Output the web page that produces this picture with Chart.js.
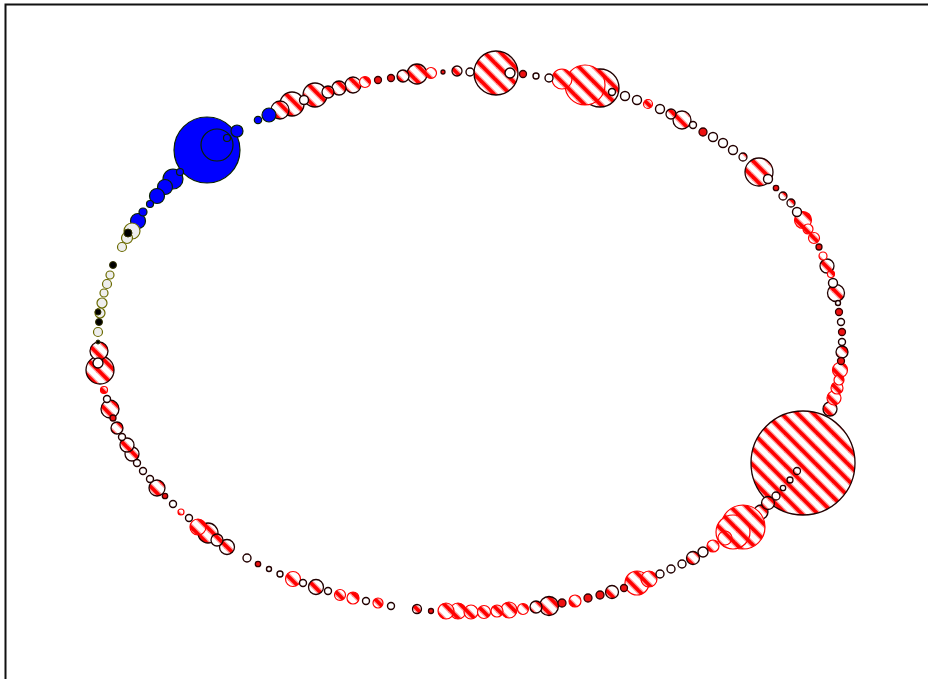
<!DOCTYPE html>
<html>
<head>
<meta charset="utf-8">
<script src="https://cdn.jsdelivr.net/npm/chart.js@4.4.0/dist/chart.umd.min.js"></script>
<style>
  html, body { margin: 0; padding: 0; background: #fff; overflow: hidden; }
  #wrap { position: relative; width: 928px; height: 679px; }
</style>
</head>
<body>
<div id="wrap"><canvas id="grafico"></canvas></div>
<script>
// bolhas [x, y, r] por estilo
const listradasEscuras = [
  [803, 463, 52], [600, 88, 19], [496, 73, 22], [100, 370, 14], [759, 172, 14],
  [292, 104, 12], [315, 95, 12], [417, 74, 10], [208, 533, 10], [549, 606, 9.5],
  [280, 110, 9], [110, 409, 9], [99, 351, 9], [836, 293, 8.5], [157, 488, 8],
  [353, 85, 8], [316, 587, 7.5], [227, 547, 7.5], [339, 88, 7], [682, 120, 9],
  [827, 266, 7], [761, 512, 7], [830, 409, 7], [132, 454, 7], [127, 445, 7],
  [768, 503, 6.5], [693, 558, 6.5], [612, 592, 6.5], [328, 92, 6], [403, 76, 6],
  [842, 352, 6], [536, 607, 6], [217, 540, 6], [117, 428, 6], [457, 71, 5],
  [671, 114, 5], [417, 609, 4.5], [743, 157, 4], [783, 196, 4], [791, 203, 4],
  [776, 496, 4], [797, 471, 3.5], [790, 480, 3], [783, 488, 2.7]
];
const listradasVermelhas = [
  [743, 527, 22], [585, 85, 20], [733, 532, 17], [637, 583, 12], [562, 79, 10],
  [803, 220, 8.5], [649, 579, 8], [509, 610, 8], [458, 611, 8], [446, 611, 8],
  [198, 527, 8], [840, 370, 7.5], [293, 579, 7.5], [834, 398, 7], [725, 538, 7],
  [471, 612, 7], [484, 612, 6.5], [837, 388, 6], [713, 546, 6], [575, 601, 6],
  [497, 611, 6], [353, 598, 6], [365, 82, 5.5], [431, 73, 5.5], [814, 238, 5.5],
  [523, 609, 5.5], [340, 595, 5.5], [808, 229, 5], [839, 380, 5], [378, 603, 5],
  [648, 104, 4.5], [823, 256, 4], [831, 274, 3.5], [104, 390, 3.5], [181, 512, 3]
];
const aneisBrancos = [
  [510, 73, 5], [703, 552, 5], [98, 363, 5], [304, 100, 4.5], [625, 96, 4.5],
  [637, 100, 4.5], [660, 109, 4.5], [713, 137, 4.5], [723, 143, 4.5], [733, 150, 4.5],
  [768, 179, 4.5], [797, 212, 4.5], [833, 283, 4.5], [470, 72, 4], [549, 78, 4],
  [682, 564, 4], [671, 569, 4], [660, 574, 4], [247, 558, 4], [612, 92, 3.5],
  [693, 125, 3.5], [841, 322, 3.5], [842, 342, 3.5], [391, 606, 3.5], [366, 601, 3.5],
  [328, 591, 3.5], [303, 583, 3.5], [189, 518, 3.5], [173, 504, 3.5], [150, 479, 3.5],
  [143, 471, 3.5], [137, 463, 3.5], [122, 437, 3.5], [107, 399, 3.5], [536, 76, 3],
  [280, 574, 3], [838, 303, 2.5], [269, 569, 2.5]
];
const pontosVermelhos = [
  [703, 132, 4], [600, 595, 4], [588, 598, 4], [562, 603, 4], [378, 80, 3.5],
  [391, 78, 3.5], [523, 74, 3.5], [839, 312, 3.5], [842, 332, 3.5], [841, 361, 3.5],
  [624, 588, 3.5], [819, 247, 3], [113, 418, 3], [776, 188, 2.7], [258, 564, 2.7],
  [165, 496, 2.7], [431, 611, 2.5], [443, 72, 2]
];
const pontosAzuis = [
  [207, 150, 33], [217, 145, 16], [173, 179, 10], [165, 187, 7.5], [157, 196, 7.5],
  [138, 221, 7.5], [269, 115, 7], [237, 131, 6], [143, 212, 4], [258, 120, 3.7],
  [227, 138, 3.5], [180, 172, 3.5], [150, 204, 3.5]
];
const pontosCinza = [
  [132, 231, 8], [127, 238, 5.5], [102, 303, 5], [100, 313, 5], [122, 247, 4.5],
  [107, 284, 4.5], [98, 332, 4.5], [110, 275, 4], [104, 293, 4]
];
const pontosPretos = [
  [128, 233, 4], [113, 265, 3.5], [99, 322, 3.5], [98, 312, 3], [98, 342, 2]
];

const paraBolhas = lista => lista.map(([x, y, r]) => ({ x, y, r }));

// padrão de listras vermelhas diagonais (bordas suaves)
function listras() {
  const c = document.createElement("canvas");
  c.width = 16; c.height = 16;
  const g = c.getContext("2d");
  g.fillStyle = "#ffffff";
  g.fillRect(0, 0, 16, 16);
  [[6, "rgba(255,40,40,0.45)"], [3.6, "#ff0000"]].forEach(([w, cor]) => {
    g.strokeStyle = cor;
    g.lineWidth = w;
    [-16, 0, 16].forEach(k => {
      g.beginPath();
      g.moveTo(k - 4, -4);
      g.lineTo(k + 20, 20);
      g.stroke();
    });
  });
  return g.createPattern(c, "repeat");
}
const padrao = listras();

// moldura (linhas superior e esquerda)
const moldura = {
  id: "moldura",
  afterDraw(chart) {
    const ctx = chart.ctx;
    ctx.save();
    ctx.strokeStyle = "#111";
    ctx.lineWidth = 2;
    ctx.beginPath();
    ctx.moveTo(5.5, 679);
    ctx.lineTo(5.5, 4.5);
    ctx.lineTo(928, 4.5);
    ctx.stroke();
    ctx.restore();
  }
};

const ctx = document.getElementById("grafico");
new Chart(ctx, {
  type: "bubble",
  data: {
    datasets: [
      { data: paraBolhas(pontosPretos), backgroundColor: "#000000", borderColor: "#333300", borderWidth: 1, clip: false },
      { data: paraBolhas(pontosCinza), backgroundColor: "#eeeeee", borderColor: "#6b6b00", borderWidth: 1.2, clip: false },
      { data: paraBolhas(pontosAzuis), backgroundColor: "#0000ff", borderColor: "#0a2200", borderWidth: 1.2, clip: false },
      { data: paraBolhas(pontosVermelhos), backgroundColor: "#ee1111", borderColor: "#330000", borderWidth: 1.3, clip: false },
      { data: paraBolhas(aneisBrancos), backgroundColor: "#ffffff", borderColor: "#220000", borderWidth: 1.4, clip: false },
      { data: paraBolhas(listradasVermelhas), backgroundColor: padrao, borderColor: "#ff0000", borderWidth: 1.2, clip: false },
      { data: paraBolhas(listradasEscuras), backgroundColor: padrao, borderColor: "#220000", borderWidth: 1.3, clip: false }
    ]
  },
  options: {
    responsive: true,
    maintainAspectRatio: false,
    animation: false,
    events: [],
    layout: { padding: 0, autoPadding: false },
    scales: {
      x: { type: "linear", min: 0, max: 928, display: false },
      y: { type: "linear", min: 0, max: 679, reverse: true, display: false }
    },
    plugins: { legend: { display: false }, tooltip: { enabled: false } }
  },
  plugins: [moldura]
});
</script>
</body>
</html>
